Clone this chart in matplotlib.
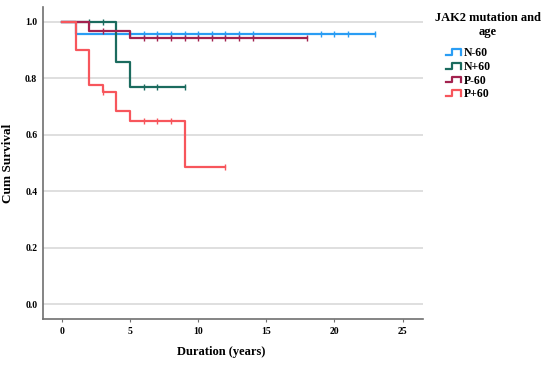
import numpy as np
import matplotlib.pyplot as plt
from matplotlib.legend_handler import HandlerBase
from matplotlib.lines import Line2D

# Kaplan-Meier step data
groups = ['N-60', 'N+60', 'P-60', 'P+60']
colors = ['#2a9df4', '#1b6b5e', '#a3224f', '#f7565c']

event_times = {
    'N-60': [0, 1],
    'N+60': [0, 4, 5],
    'P-60': [0, 2, 5],
    'P+60': [0, 1, 2, 3, 4, 5, 9],
}
survival = {
    'N-60': [1.0, 0.958],
    'N+60': [1.0, 0.857, 0.771],
    'P-60': [1.0, 0.967, 0.944],
    'P+60': [1.0, 0.900, 0.775, 0.750, 0.683, 0.650, 0.487],
}
end_time = {'N-60': 23, 'N+60': 9, 'P-60': 18, 'P+60': 12}
censored = {
    'N-60': [5, 6, 7, 8, 9, 10, 11, 12, 13, 14, 19, 20, 21, 23],
    'N+60': [2, 3, 6, 7, 9],
    'P-60': [3, 6, 7, 8, 9, 10, 11, 12, 13, 14, 18],
    'P+60': [3, 6, 7, 8, 12],
}

x_ticks = [0, 5, 10, 15, 20, 25]
y_ticks = [0.0, 0.2, 0.4, 0.6, 0.8, 1.0]

serif = ['Liberation Serif', 'DejaVu Serif']


def surv_at(g, t):
    times = np.array(event_times[g])
    idx = np.searchsorted(times, t, side='right') - 1
    return survival[g][idx]


class StepHandler(HandlerBase):
    def create_artists(self, legend, orig_handle, xdescent, ydescent,
                       width, height, fontsize, trans):
        x = np.array([0, 0.45, 0.45, 1.0, 1.0]) * width - xdescent
        y = np.array([0.15, 0.15, 0.85, 0.85, 0.15]) * height - ydescent
        ln = Line2D(x, y, color=orig_handle.get_color(), lw=1.6, transform=trans)
        return [ln]


fig = plt.figure(figsize=(5.5, 3.69), dpi=100)
ax = fig.add_axes([0.078, 0.1355, 0.691, 0.8455])

handles = []
for g, c in zip(groups, colors):
    xs = list(event_times[g]) + [end_time[g]]
    ys = list(survival[g]) + [survival[g][-1]]
    ln, = ax.step(xs, ys, where='post', color=c, lw=1.6)
    handles.append(ln)
    cx = censored[g]
    cy = [surv_at(g, t) for t in cx]
    ax.plot(cx, cy, linestyle='none', marker='|', markersize=5,
            markeredgewidth=1.0, color=c)

ax.set_xlim(-1.4, 26.5)
ax.set_ylim(-0.053, 1.053)
ax.set_xticks(x_ticks)
ax.set_yticks(y_ticks)
ax.set_yticklabels([f'{v:.1f}' for v in y_ticks])
ax.yaxis.grid(True, color='#d9d9d9', lw=1.2)
ax.set_axisbelow(True)
for s in ['top', 'right']:
    ax.spines[s].set_visible(False)
for s in ['left', 'bottom']:
    ax.spines[s].set_color('#707070')
    ax.spines[s].set_linewidth(1.2)
ax.tick_params(axis='y', length=0, pad=4)
ax.tick_params(axis='x', length=2, color='#707070', pad=4)
for lab in ax.get_xticklabels() + ax.get_yticklabels():
    lab.set_family(serif)
    lab.set_fontweight('bold')
    lab.set_fontsize(7)

ax.set_xlabel('Duration (years)', family=serif, fontweight='bold', fontsize=9)
ax.xaxis.set_label_coords(0.47, -0.085)
ax.set_ylabel('Cum Survival', family=serif, fontweight='bold', fontsize=9.5)
ax.yaxis.set_label_coords(-0.076, 0.5)

fig.text(0.887, 0.968, 'JAK2 mutation and\nage', ha='center', va='top',
         multialignment='center', family=serif, fontweight='bold', fontsize=9,
         linespacing=1.25)
fig.legend(handles, groups, handler_map={Line2D: StepHandler()},
           loc='upper left', bbox_to_anchor=(0.795, 0.895),
           frameon=False,
           prop={'family': serif, 'weight': 'bold', 'size': 8.5},
           handlelength=1.3, handletextpad=0.25, labelspacing=0.15,
           borderpad=0.2)

fig.savefig('out.png', dpi=100)
